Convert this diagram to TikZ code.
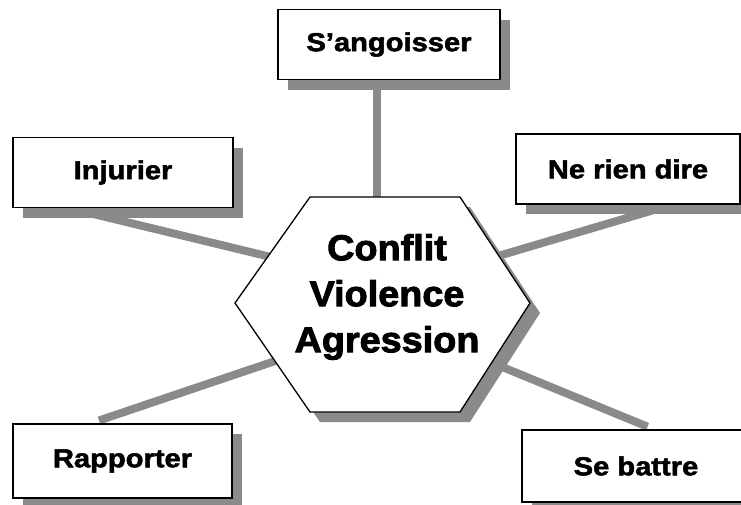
\documentclass[tikz,border=0pt]{standalone}
\usepackage{fontspec}
\setmainfont{Liberation Sans}
\newfontfamily\labelfont[FakeStretch=1.12,FakeBold=2]{Liberation Sans}
\newfontfamily\hexfont[FakeStretch=1.05,FakeBold=2.5]{Liberation Sans}
\usetikzlibrary{shadows}

\definecolor{hatchgray}{gray}{0.54}

\pgfdeclarelayer{background}
\pgfsetlayers{background,main}

\tikzset{
  itembox/.style={draw=black, line width=1.3pt, fill=white, inner sep=0pt,
    minimum width=#1, minimum height=70pt,
    font=\labelfont\bfseries\fontsize{26}{30}\selectfont,
    drop shadow={shadow xshift=10pt, shadow yshift=-10pt, fill=hatchgray, opacity=1}},
  itembox/.default=220pt,
  link/.style={draw=hatchgray, line width=8pt},
  hexline/.style={draw=black, line width=1.3pt, fill=white,
    drop shadow={shadow xshift=10pt, shadow yshift=-10pt, fill=hatchgray, opacity=1}}
}

\begin{document}
\begin{tikzpicture}[x=1pt,y=-1pt]
\useasboundingbox (0,0) rectangle (741,504);
\clip (0,0) rectangle (741,504);

\node[itembox=222pt] (angoisser) at (389,44.5) {S’angoisser};
\node[itembox=220pt] (injurier) at (123,172.5) {Injurier};
\node[itembox=224pt] (nerien) at (628,169) {Ne rien dire};
\node[itembox=219pt, minimum height=74pt] (rapporter) at (122.5,461) {Rapporter};
\node[itembox=228pt, minimum height=72pt] (battre) at (636,466) {Se battre};

\coordinate (h1) at (235,303);
\coordinate (h2) at (310,197);
\coordinate (h3) at (460,197);
\coordinate (h4) at (530,303);
\coordinate (h5) at (460,412);
\coordinate (h6) at (310,412);

\coordinate (endA) at (377,205);
\coordinate (endB) at (275,258);
\coordinate (endC) at (488,259);
\coordinate (endD) at (290,356);
\coordinate (endE) at (495,364);

\begin{pgfonlayer}{background}
\draw[link] ([xshift=-12pt]angoisser.south) -- (endA);
\draw[link] ([xshift=-54pt]injurier.south) -- (endB);
\draw[link] ([xshift=44pt]nerien.south) -- (endC);
\draw[link, shorten <=9pt] ([xshift=-32pt]rapporter.north) -- (endD);
\draw[link, shorten <=7pt] ([xshift=18pt]battre.north) -- (endE);
\end{pgfonlayer}

\path[hexline] (h1) -- (h2) -- (h3) -- (h4) -- (h5) -- (h6) -- cycle;

\node[align=center, font=\hexfont\bfseries\fontsize{36}{46}\selectfont] (hex) at (387,297)
  {Conflit\\Violence\\Agression};
\end{tikzpicture}
\end{document}
